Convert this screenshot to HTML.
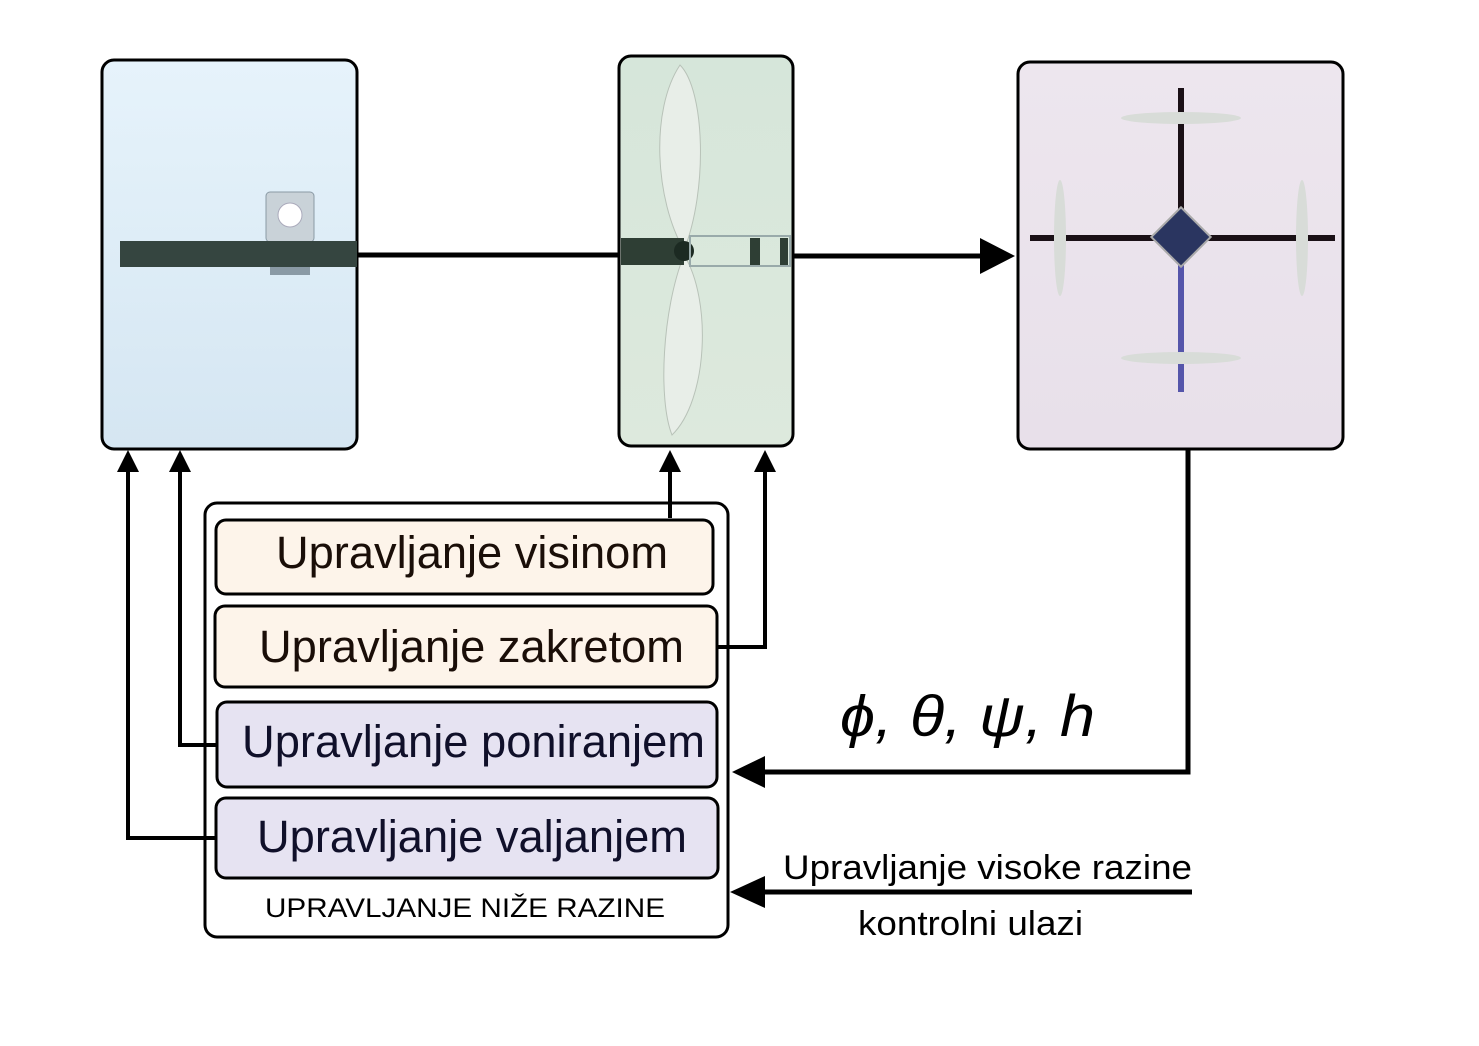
<!DOCTYPE html>
<html><head><meta charset="utf-8"><style>
html,body{margin:0;padding:0;background:#fff}
svg{display:block}
text{font-family:"Liberation Sans",sans-serif}
</style></head><body>
<svg width="1479" height="1046" viewBox="0 0 1479 1046">
<defs>
<linearGradient id="g1" x1="0" y1="0" x2="0" y2="1"><stop offset="0" stop-color="#e6f3fb"/><stop offset="1" stop-color="#d5e6f2"/></linearGradient>
<linearGradient id="g2" x1="0" y1="0" x2="0" y2="1"><stop offset="0" stop-color="#d6e6da"/><stop offset="1" stop-color="#dde9dd"/></linearGradient>
<linearGradient id="g3" x1="0" y1="0" x2="0" y2="1"><stop offset="0" stop-color="#ede6ee"/><stop offset="1" stop-color="#e8e0ea"/></linearGradient>
</defs>

<g>
<rect x="102" y="60" width="255" height="389" rx="12" fill="url(#g1)" stroke="#000" stroke-width="3"/>
<rect x="266" y="192" width="48" height="50" rx="4" fill="#c9d2d8" stroke="#8a9aa5"/>
<circle cx="290" cy="215" r="12" fill="#fff" stroke="#aab"/>
<rect x="120" y="241" width="237" height="26" fill="#354540"/>
<rect x="270" y="267" width="40" height="8" fill="#8a9aa5"/>
</g>
<line x1="357" y1="255" x2="620" y2="255" stroke="#000" stroke-width="5"/>

<g>
<rect x="619" y="56" width="174" height="390" rx="12" fill="url(#g2)" stroke="#000" stroke-width="3"/>
<path d="M684,250 C655,200 650,110 680,65 C705,90 708,190 684,250 Z" fill="#e8eee8" stroke="#b8c2b8"/>
<path d="M684,255 C712,300 708,400 672,435 C658,400 662,310 684,255 Z" fill="#e8eee8" stroke="#b8c2b8"/>
<rect x="621" y="238" width="63" height="27" fill="#2e3e34"/>
<circle cx="684" cy="251" r="10" fill="#1c2a22"/>
<rect x="690" y="236" width="100" height="30" fill="none" stroke="#9aa" stroke-width="2"/>
<rect x="750" y="238" width="10" height="27" fill="#2e3e34"/>
<rect x="780" y="238" width="8" height="27" fill="#2e3e34"/>
</g>
<line x1="793" y1="256" x2="982" y2="256" stroke="#000" stroke-width="5"/>
<path d="M980,238 L1015,256 L980,274 z" fill="#000"/>

<g>
<rect x="1018" y="62" width="325" height="387" rx="12" fill="url(#g3)" stroke="#000" stroke-width="3"/>
<line x1="1181" y1="88" x2="1181" y2="237" stroke="#1a1016" stroke-width="6"/>
<line x1="1181" y1="237" x2="1181" y2="392" stroke="#5555aa" stroke-width="6"/>
<line x1="1030" y1="238" x2="1335" y2="238" stroke="#1a1016" stroke-width="6"/>
<rect x="1160" y="216" width="42" height="42" transform="rotate(45 1181 237)" fill="#2a3560" stroke="#aaa" stroke-width="2"/>
<ellipse cx="1181" cy="118" rx="60" ry="6" fill="#d8dcd8"/>
<ellipse cx="1181" cy="358" rx="60" ry="6" fill="#d8dcd8"/>
<ellipse cx="1060" cy="238" rx="6" ry="58" fill="#d8dcd8"/>
<ellipse cx="1302" cy="238" rx="6" ry="58" fill="#d8dcd8"/>
</g>

<polyline points="1188,449 1188,772 760,772" fill="none" stroke="#000" stroke-width="5"/>
<path d="M765,756 L732,772 L765,788 z" fill="#000"/>
<text x="840" y="736" font-family="Liberation Serif,serif" font-style="italic" font-size="58" textLength="255" lengthAdjust="spacingAndGlyphs">ϕ, θ, ψ, h</text>

<text x="783" y="879" font-size="34" textLength="409" lengthAdjust="spacingAndGlyphs">Upravljanje visoke razine</text>
<line x1="1192" y1="892" x2="760" y2="892" stroke="#000" stroke-width="5"/>
<path d="M765,876 L730,892 L765,908 z" fill="#000"/>
<text x="858" y="935" font-size="34" textLength="225" lengthAdjust="spacingAndGlyphs">kontrolni ulazi</text>

<g>
<rect x="205" y="503" width="523" height="434" rx="12" fill="#fff" stroke="#000" stroke-width="3"/>
<text x="265" y="917" font-size="27" textLength="400" lengthAdjust="spacingAndGlyphs">UPRAVLJANJE NIŽE RAZINE</text>
</g>
<g>
<rect x="216" y="520" width="497" height="74" rx="10" fill="#fdf4ea" stroke="#000" stroke-width="3"/>
<text x="276" y="568" font-size="45" textLength="392" lengthAdjust="spacingAndGlyphs" fill="#1a0e08">Upravljanje visinom</text>
</g>
<g>
<rect x="215" y="606" width="502" height="81" rx="10" fill="#fdf4ea" stroke="#000" stroke-width="3"/>
<text x="259" y="662" font-size="45" textLength="425" lengthAdjust="spacingAndGlyphs" fill="#1a0e08">Upravljanje zakretom</text>
</g>
<g>
<rect x="217" y="702" width="500" height="85" rx="10" fill="#e6e3f2" stroke="#000" stroke-width="3"/>
<text x="242" y="757" font-size="45" textLength="463" lengthAdjust="spacingAndGlyphs" fill="#10102a">Upravljanje poniranjem</text>
</g>
<g>
<rect x="216" y="798" width="502" height="80" rx="10" fill="#e6e3f2" stroke="#000" stroke-width="3"/>
<text x="257" y="852" font-size="45" textLength="430" lengthAdjust="spacingAndGlyphs" fill="#10102a">Upravljanje valjanjem</text>
</g>

<g fill="none" stroke="#000" stroke-width="4">
<polyline points="670,518 670,470"/>
<polyline points="717,647 765,647 765,470"/>
<polyline points="217,745 180,745 180,470"/>
<polyline points="216,838 128,838 128,470"/>
</g>
<g fill="#000">
<path d="M659,472 L670,450 L681,472 z"/>
<path d="M754,472 L765,450 L776,472 z"/>
<path d="M169,472 L180,450 L191,472 z"/>
<path d="M117,472 L128,450 L139,472 z"/>
</g>
</svg>
</body></html>
